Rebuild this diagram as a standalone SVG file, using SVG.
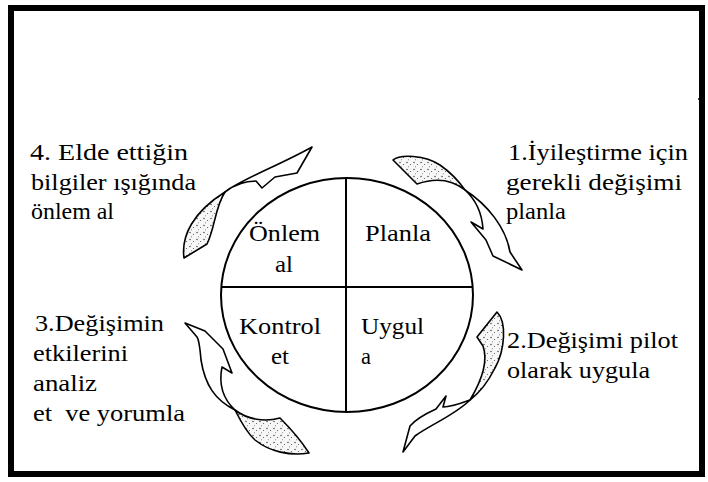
<svg xmlns="http://www.w3.org/2000/svg" width="708" height="482" viewBox="0 0 708 482">
<style>
.ar{stroke:#000;stroke-width:1.6;stroke-linejoin:round}
.hd{fill:#fff}
.tl{fill:url(#stip)}
.ln{stroke:#000;stroke-width:2;fill:none}
.tx{font-family:"Liberation Serif","Times New Roman",serif;font-size:22.6px;fill:#000}
</style>
<defs>
<pattern id="stip" width="7" height="7" patternUnits="userSpaceOnUse">
<rect width="7" height="7" fill="#f7f7f7"/>
<circle cx="1" cy="1.5" r="0.7" fill="#333"/>
<circle cx="4.5" cy="3.5" r="0.6" fill="#555"/>
<circle cx="2.5" cy="5.8" r="0.5" fill="#666"/>
</pattern>
</defs>
<rect width="708" height="482" fill="#fff"/>
<rect x="11" y="8" width="691" height="466" fill="none" stroke="#000" stroke-width="6"/>
<circle cx="699" cy="99" r="1" fill="#000"/>

<g id="cycle">
<ellipse class="ln" cx="347" cy="295" rx="126" ry="117"/>
<line class="ln" x1="221" y1="287" x2="473" y2="287"/>
<line class="ln" x1="346" y1="178" x2="346" y2="412"/>
</g>

<g class="tx">
<g id="q-onlem">
<text x="249" y="241" textLength="71" lengthAdjust="spacingAndGlyphs">Önlem</text>
<text x="275" y="272" textLength="18" lengthAdjust="spacingAndGlyphs">al</text>
</g>
<g id="q-planla">
<text x="365" y="241" textLength="66" lengthAdjust="spacingAndGlyphs">Planla</text>
</g>
<g id="q-kontrol">
<text x="239" y="334" textLength="82" lengthAdjust="spacingAndGlyphs">Kontrol</text>
<text x="271" y="364" textLength="18" lengthAdjust="spacingAndGlyphs">et</text>
</g>
<g id="q-uygula">
<text x="361" y="334" textLength="63" lengthAdjust="spacingAndGlyphs">Uygul</text>
<text x="361" y="364" textLength="10" lengthAdjust="spacingAndGlyphs">a</text>
</g>
<g id="step1">
<text x="508" y="160" textLength="180" lengthAdjust="spacingAndGlyphs">1.İyileştirme için</text>
<text x="506" y="190" textLength="176" lengthAdjust="spacingAndGlyphs">gerekli değişimi</text>
<text x="506" y="219" textLength="60" lengthAdjust="spacingAndGlyphs">planla</text>
</g>
<g id="step2">
<text x="507" y="348" textLength="171" lengthAdjust="spacingAndGlyphs">2.Değişimi pilot</text>
<text x="507" y="378" textLength="143" lengthAdjust="spacingAndGlyphs">olarak uygula</text>
</g>
<g id="step3">
<text x="35" y="331" textLength="129" lengthAdjust="spacingAndGlyphs">3.Değişimin</text>
<text x="33" y="361" textLength="95" lengthAdjust="spacingAndGlyphs">etkilerini</text>
<text x="33" y="391" textLength="64" lengthAdjust="spacingAndGlyphs">analiz</text>
<text x="33" y="421" textLength="152" lengthAdjust="spacingAndGlyphs" xml:space="preserve">et  ve yorumla</text>
</g>
<g id="step4">
<text x="30" y="160" textLength="158" lengthAdjust="spacingAndGlyphs">4. Elde ettiğin</text>
<text x="31" y="190" textLength="165" lengthAdjust="spacingAndGlyphs">bilgiler ışığında</text>
<text x="31" y="219" textLength="83" lengthAdjust="spacingAndGlyphs">önlem al</text>
</g>
</g>

<g id="connectors">
<g id="arrow4">
<path class="ar tl" d="M184,258 C181,236 193,212 225,192 C215,207 215,228 207,244 L184,258 Z"/>
<path class="ar hd" d="M225,192 C240,180 280,165 312,147 L297,173 L275,177 L262,188 L256,181 C245,181 234,185 225,192 Z"/>
</g>
<g id="arrow1">
<path class="ar tl" d="M393,160 C400,154 425,155 440,165 C450,172 458,180 465,190 C455,182 440,176 417,184 Z"/>
<path class="ar hd" d="M465,190 C488,205 506,228 510,252 L522,270 L493,256 L486,240 L471,222 L483,229 C482,214 476,200 465,190 Z"/>
</g>
<g id="arrow2">
<path class="ar tl" d="M497,312 C507,322 505,350 495,368 C488,382 478,394 470,400 C482,380 488,360 483,346 L477,337 Z"/>
<path class="ar hd" d="M470,400 C455,415 430,425 415,436 L403,452 L410,426 C415,420 425,414 436,409 L446,396 L443,407 C452,407 462,403 470,400 Z"/>
</g>
<g id="arrow3">
<path class="ar hd" d="M185,323 L205,331 L223,349 L232,373 L222,367 C219,382 222,398 235,410 C215,400 205,385 201,360 C200,348 199,340 197,337 Z"/>
<path class="ar tl" d="M235,410 C248,420 265,422 280,418 C292,430 302,442 309,453 C290,456 270,452 255,440 C247,433 240,420 235,410 Z"/>
</g>
</g>
</svg>
